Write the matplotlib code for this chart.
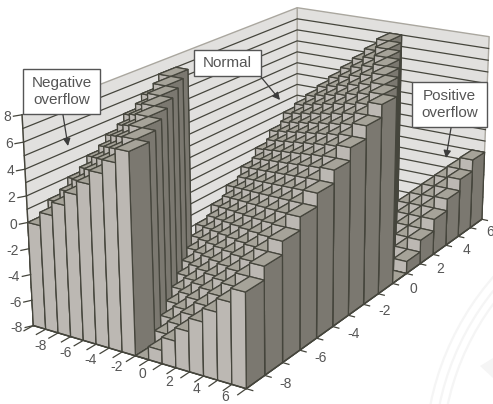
import numpy as np
import matplotlib
matplotlib.use('Agg')
import matplotlib.pyplot as plt
from matplotlib.patches import Rectangle, Circle, Polygon
from mpl_toolkits.mplot3d.art3d import Poly3DCollection

plt.rcParams['font.family'] = ['Liberation Sans', 'DejaVu Sans']

# Bin labels on the two floor axes and the height axis
x_bins = [-8, -7, -6, -5, -4, -3, -2, -1, 0, 1, 2, 3, 4, 5, 6, 7]
y_bins = [-8, -7, -6, -5, -4, -3, -2, -1, 0, 1, 2, 3, 4, 5, 6, 7]
x_tick_labels = [-8, -6, -4, -2, 0, 2, 4, 6]
y_tick_labels = [-8, -6, -4, -2, 0, 2, 4, 6]
z_tick_labels = [-8, -6, -4, -2, 0, 2, 4, 6, 8]

# Bar heights, one row per y bin (y = -8 first), one column per x bin
heights = [
    [0, 1, 2, 3, 4, 5, 6, 7, -8, -7, -6, -5, -4, -3, -2, -1],
    [1, 2, 3, 4, 5, 6, 7, -8, -7, -6, -5, -4, -3, -2, -1, 0],
    [2, 3, 4, 5, 6, 7, -8, -7, -6, -5, -4, -3, -2, -1, 0, 1],
    [3, 4, 5, 6, 7, -8, -7, -6, -5, -4, -3, -2, -1, 0, 1, 2],
    [4, 5, 6, 7, -8, -7, -6, -5, -4, -3, -2, -1, 0, 1, 2, 3],
    [5, 6, 7, -8, -7, -6, -5, -4, -3, -2, -1, 0, 1, 2, 3, 4],
    [6, 7, -8, -7, -6, -5, -4, -3, -2, -1, 0, 1, 2, 3, 4, 5],
    [7, -8, -7, -6, -5, -4, -3, -2, -1, 0, 1, 2, 3, 4, 5, 6],
    [-8, -7, -6, -5, -4, -3, -2, -1, 0, 1, 2, 3, 4, 5, 6, 7],
    [-7, -6, -5, -4, -3, -2, -1, 0, 1, 2, 3, 4, 5, 6, 7, -8],
    [-6, -5, -4, -3, -2, -1, 0, 1, 2, 3, 4, 5, 6, 7, -8, -7],
    [-5, -4, -3, -2, -1, 0, 1, 2, 3, 4, 5, 6, 7, -8, -7, -6],
    [-4, -3, -2, -1, 0, 1, 2, 3, 4, 5, 6, 7, -8, -7, -6, -5],
    [-3, -2, -1, 0, 1, 2, 3, 4, 5, 6, 7, -8, -7, -6, -5, -4],
    [-2, -1, 0, 1, 2, 3, 4, 5, 6, 7, -8, -7, -6, -5, -4, -3],
    [-1, 0, 1, 2, 3, 4, 5, 6, 7, -8, -7, -6, -5, -4, -3, -2],
]

# Camera: data points and where they land in the picture
cam_world = [(-8, -8, -8), (8, -8, -8), (8, 8, -8), (-8, -8, 8), (-8, 8, 8), (8, 8, 8),
             (-8, -8, 0), (0, -8, 7), (0, -8, -8), (1, 8, 7), (8, 1, 7), (8, 1, -8), (8, -8, -1),
             (-8, 0, 7)]
cam_pixel = [(33, 326), (246, 389), (481, 220), (22, 115), (296, 7), (490, 37),
             (28, 222), (129, 151), (136, 356), (402, 35), (396, 97), (394, 282), (244, 292),
             (177, 68)]

# Colors
light_face = '#bcb8b3'
dark_face = '#7b7870'
top_face = '#a6a399'
edge_col = '#45453c'
wall_col = '#e1e0de'
wall_edge = '#aaa79f'
text_col = '#555555'


def fit_camera(world, pixel):
    rows = []
    for (X, Y, Z), (u, v) in zip(world, pixel):
        u, v = u / 400, v / 400
        rows.append([X, Y, Z, 1, 0, 0, 0, 0, -u * X, -u * Y, -u * Z, -u])
        rows.append([0, 0, 0, 0, X, Y, Z, 1, -v * X, -v * Y, -v * Z, -v])
    p = np.linalg.svd(np.array(rows, float))[2][-1].reshape(3, 4)
    p[:2] *= 400
    w = p[2] @ np.c_[np.array(world, float), np.ones(len(world))].T
    p /= w.mean()
    return np.vstack([p[0], p[1], p[2] - [0, 0, 0, 1], p[2]])


M = fit_camera(cam_world, cam_pixel)


def to_pixel(x, y, z):
    u, v, _, w = M @ [x, y, z, 1]
    return u / w, v / w


fig = plt.figure(figsize=(4.93, 4.04), dpi=100)

# The faint seal behind the chart, in picture pixels
back = fig.add_axes([0, 0, 1, 1], zorder=0)
back.set_xlim(0, 493)
back.set_ylim(404, 0)
back.axis('off')
for r in [277, 268, 260]:
    back.add_patch(Circle((702, 459), r, fill=False, ec='#f5f5f5', lw=1.6))
back.add_patch(Polygon([(480, 366), (493, 358), (493, 378)], fc='#f5f5f5', ec='none'))

# 3d axes are always square, so let it overhang the figure top and bottom
ax = fig.add_axes([0, -44.5 / 404, 1, 493 / 404], projection='3d', computed_zorder=False, zorder=1)
ax.set_proj_type('ortho')
ax.set_axis_off()
ax.patch.set_visible(False)
ax.set_xlim(-8, 8)
ax.set_ylim(-8, 8)
ax.set_zlim(-8, 8)
ax.set_xticks([])
ax.set_yticks([])
ax.set_zticks([])

# Walls
walls = Poly3DCollection([[(-8, -8, -8), (-8, 8, -8), (-8, 8, 8), (-8, -8, 8)],
                          [(-8, 8, -8), (8, 8, -8), (8, 8, 8), (-8, 8, 8)]],
                         facecolors=wall_col, edgecolors=wall_edge, linewidths=1.0, zorder=1)
ax.add_collection3d(walls)

for z in range(-8, 8):
    ax.plot([-8, -8, 8], [-8, 8, 8], [z, z, z], color=edge_col, lw=0.9, zorder=2)
ax.plot([-8, -8], [-8, -8], [-8, 8], color=edge_col, lw=1.0, zorder=2)

# Bars, from the back corner to the front
order = 3
for iy in range(15, -1, -1):
    for ix in range(16):
        dz = heights[iy][ix] + 8
        # faces: -z, +z, -y, +y, -x, +x
        ax.bar3d(x_bins[ix], y_bins[iy], -8, 1, 1, dz, shade=False,
                 color=[top_face, top_face, light_face, light_face, dark_face, dark_face],
                 edgecolor=edge_col, linewidth=0.9, zorder=order)
        order += 1

# Axis lines and ticks
ax.plot([-8, 8, 8], [-8, -8, 8], [-8, -8, -8], color=edge_col, lw=1.1, zorder=order)
for x in range(-8, 9):
    ax.plot([x, x], [-8, -8.45], [-8, -8], color=edge_col, lw=0.9, zorder=order)
for y in range(-8, 9):
    ax.plot([8, 8.45], [y, y], [-8, -8], color=edge_col, lw=0.9, zorder=order)
for z in z_tick_labels:
    ax.plot([-8, -8.25], [-8, -8.25], [z, z], color=edge_col, lw=0.9, zorder=order)

ax.viewLim.intervalx = (0, 493)
ax.viewLim.intervaly = (448.5, -44.5)
ax.get_proj = lambda: M

# Tick labels and callouts on a flat overlay
over = fig.add_axes([0, 0, 1, 1], zorder=5)
over.set_xlim(0, 493)
over.set_ylim(404, 0)
over.axis('off')

for z in z_tick_labels:
    over.text(*to_pixel(-8.32, -8.32, z), str(z), ha='right', va='center', fontsize=10, color=text_col)
for x in x_tick_labels:
    over.text(*to_pixel(x + 0.5, -8, -9.5 + 0.03 * (x + 8)), str(x), ha='center', va='center', fontsize=10, color=text_col)
for y in y_tick_labels:
    over.text(*to_pixel(10.05, y + 0.5, -7.5), str(y), ha='center', va='center', fontsize=10, color=text_col)


def callout(x0, y0, x1, y1, label, start, tip):
    over.annotate('', xy=tip, xytext=start,
                  arrowprops=dict(arrowstyle='-|>', color='#3c3c3c', lw=0.9, shrinkA=0, shrinkB=0, mutation_scale=11))
    over.add_patch(Rectangle((x0, y0), x1 - x0, y1 - y0, fc='white', ec='#555555', lw=1.0))
    over.text((x0 + x1) / 2, (y0 + y1) / 2, label, ha='center', va='center', fontsize=11,
              color=text_col, linespacing=1.25)


callout(23, 69, 100, 114, 'Negative\noverflow', (63, 115), (68, 146))
callout(194, 50, 261, 76, 'Normal', (261, 77), (280, 100))
callout(412, 82, 487, 127, 'Positive\noverflow', (451, 128), (446, 158))

fig.savefig('out.png', dpi=100)
